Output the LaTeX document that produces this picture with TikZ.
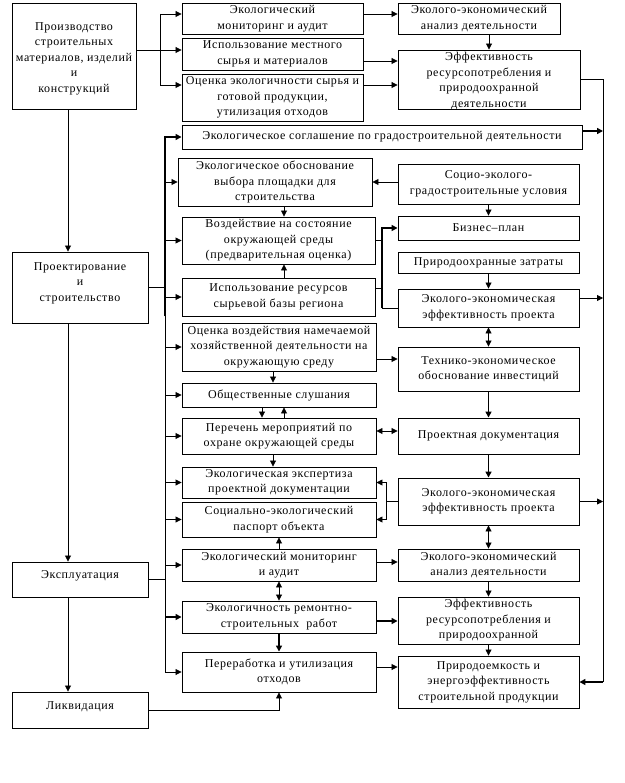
\documentclass[tikz,border=0pt]{standalone}
\usepackage{fontspec}
\setmainfont{Liberation Serif}[LetterSpace=5]
\usetikzlibrary{arrows.meta}
\newcommand{\fsz}{\fontsize{12}{15.5}\selectfont}
\newcommand{\mybox}[6]{\node[box, minimum width={(#4-#2)*1pt}, minimum height={(#5-#3)*1pt}] (#1) at ({(#2+#4)/2},{(#3+#5)/2}) {#6};}
\tikzset{
  box/.style={draw, line width=0.9pt, align=center, inner sep=0pt, font=\fsz},
  txt/.style={align=center, inner sep=0pt, font=\fsz},
  arr/.style={-{Triangle[length=6pt,width=6pt]}, line width=0.8pt},
  darr/.style={{Triangle[length=6pt,width=6pt]}-{Triangle[length=6pt,width=6pt]}, line width=0.8pt},
  thk/.style={line width=1.8pt},
  ln/.style={line width=0.8pt}
}
\begin{document}
\begin{tikzpicture}[x=1pt,y=-1pt]
\useasboundingbox (0,0) rectangle (624,783);
% left column
\mybox{prod}{12}{3}{136}{109}{}
\node[txt] (prodt) at ([yshift=-2.5pt]prod.center) {Производство\\строительных\\материалов, изделий\\и\\конструкций};
\mybox{proekt}{12}{252}{148}{323}{}
\node[txt] (proektt) at ([yshift=4.5pt]proekt.center) {Проектирование\\и\\строительство};
\node[box, minimum width=136pt, minimum height=35pt, text depth=9pt] (expl) at (80,579.5) {Эксплуатация};
\node[box, minimum width=136pt, minimum height=36pt, text depth=9pt] (likv) at (80,710) {Ликвидация};
% top group
\mybox{b1}{182}{3}{363}{34}{Экологический\\мониторинг и аудит}
\mybox{b2}{182}{38}{363}{70}{Использование местного\\сырья и материалов}
\mybox{b3}{182}{74}{363}{121}{Оценка экологичности сырья и\\готовой продукции,\\утилизация отходов}
\mybox{c1}{398}{3}{560}{34}{Эколого-экономический\\анализ деятельности}
\mybox{c2}{398}{50}{580}{109}{}
\begin{scope}
\clip (c2.south west) rectangle (c2.north east);
\node[txt] (c2t) at ([yshift=-1.5pt]c2.center) {Эффективность\\ресурсопотребления и\\природоохранной\\деятельности};
\end{scope}
\mybox{s}{182}{125}{582}{149}{Экологическое соглашение по градостроительной деятельности}
% column D
\mybox{d1}{178}{158}{372}{206}{Экологическое обоснование\\выбора площадки для\\строительства}
\mybox{d2}{182}{217}{375}{264}{Воздействие на состояние\\окружающей среды\\(предварительная оценка)}
\mybox{d3}{182}{278}{375}{316}{Использование ресурсов\\сырьевой базы региона}
\mybox{d4}{182}{323}{376}{371}{Оценка воздействия намечаемой\\хозяйственной деятельности на\\окружающую среду}
\mybox{d5}{182}{383}{376}{407}{Общественные слушания}
\mybox{d6}{182}{418}{376}{454}{Перечень мероприятий по\\охране окружающей среды}
\mybox{d7}{182}{467}{376}{498}{Экологическая экспертиза\\проектной документации}
\mybox{d8}{182}{502}{376}{537}{Социально-экологический\\паспорт объекта}
\mybox{d9}{182}{549}{376}{581}{Экологический мониторинг\\и аудит}
\mybox{d10}{182}{601}{376}{633}{Экологичность ремонтно-\\строительных\ \ работ}
\mybox{d11}{182}{652}{376}{692}{Переработка и утилизация\\отходов}
% column E
\mybox{e1}{398}{164}{579}{204}{Социо-эколого-\\градостроительные условия}
\mybox{e2}{398}{216}{579}{240}{Бизнес–план}
\mybox{e3}{398}{252}{579}{273}{Природоохранные затраты}
\mybox{e4}{398}{289}{579}{327}{Эколого-экономическая\\эффективность проекта}
\mybox{e5}{398}{347}{579}{391}{Технико-экономическое\\обоснование инвестиций}
\mybox{e6}{398}{418}{579}{454}{Проектная документация}
\mybox{e7}{398}{478}{579}{525}{Эколого-экономическая\\эффективность проекта}
\mybox{e8}{398}{549}{579}{581}{Эколого-экономический\\анализ деятельности}
\mybox{e9}{398}{597}{579}{644}{Эффективность\\ресурсопотребления и\\природоохранной}
\mybox{e10}{398}{656}{579}{708}{Природоемкость и\\энергоэффективность\\строительной продукции}
% coordinates
\coordinate (lx) at (68,0);
\coordinate (pb1) at (160,14);
\coordinate (pb2) at (160,50);
\coordinate (pb3) at (160,85);
\coordinate (c2a) at (0,61);
\coordinate (rx) at (603,0);
\coordinate (sy) at (0,131);
\coordinate (e4y) at (0,298);
\coordinate (bt) at (165,137);
\coordinate (mx) at (382,0);
\coordinate (d3y) at (0,288);
\coordinate (d4y) at (0,359);
\coordinate (d6y) at (0,431);
\coordinate (ex) at (386,0);
\coordinate (d9y) at (0,562);
\coordinate (d10y) at (0,621);
\coordinate (d11y) at (0,667);
\coordinate (dx1) at (284,0);
\coordinate (dx2) at (273,0);
\coordinate (dx3) at (262,0);
\coordinate (dx4) at (279,0);
% left column arrows
\draw[arr] (prod.south -| lx) -- (proekt.north -| lx);
\draw[arr] (proekt.south -| lx) -- (expl.north -| lx);
\draw[arr] (expl.south -| lx) -- (likv.north -| lx);
% production bus
\draw[ln] (prod.east |- pb2) -- (pb2);
\draw[ln] (pb1) -- (pb3);
\draw[arr] (pb1) -- (pb1 -| b1.west);
\draw[arr] (pb2) -- (pb2 -| b2.west);
\draw[arr] (pb3) -- (pb3 -| b3.west);
\draw[arr] (b1.east |- pb1) -- (c1.west |- pb1);
\draw[arr] (b2.east |- c2a) -- (c2.west |- c2a);
\draw[arr] (b3.east |- pb3) -- (c2.west |- pb3);
\draw[arr] (c1.south -| c2.north) -- (c2.north);
% right line
\draw[ln] (c2.east) -- (c2.east -| rx) -- (rx |- e10.east);
\draw[arr,thk] (rx |- e10.east) -- (e10.east);
\draw[arr,thk] (s.east |- sy) -- (rx |- sy);
\draw[arr] (e4.east |- e4y) -- (rx |- e4y);
\draw[arr] (e7.east) -- (rx |- e7.east);
% design bus
\draw[arr,thk] (bt |- d3.south) -- (bt) -- (s.west);
\draw[ln] (bt |- d3.south) -- (bt |- d11.west);
\draw[ln] (proekt.east) -- (proekt.east -| bt);
\draw[ln] (expl.east) -- (expl.east -| bt);
\foreach \n in {d1,d2,d3,d4,d5,d6,d7,d8,d9,d11}
  \draw[arr] (bt |- \n.west) -- (\n.west);
\draw[arr,thk] (bt |- d10.west) -- (d10.west);
% column D vertical arrows
\draw[arr] (d1.south -| dx1) -- (d2.north -| dx1);
\draw[arr] (d3.north -| dx1) -- (d2.south -| dx1);
\draw[arr] (d4.south -| dx2) -- (d5.north -| dx2);
\draw[arr] (d5.south -| dx3) -- (d6.north -| dx3);
\draw[arr] (d6.north -| dx1) -- (d5.south -| dx1);
\draw[arr] (d6.south -| dx2) -- (d7.north -| dx2);
\draw[arr] (d9.north -| dx4) -- (d8.south -| dx4);
\draw[darr] (d9.south -| dx4) -- (d10.north -| dx4);
\draw[arr,thk] (d10.south -| dx4) -- (d11.north -| dx4);
\draw[arr] (likv.east) -- (likv.east -| dx4) -- (d11.south -| dx4);
% E to D links
\draw[arr] (e1.west |- d1.east) -- (d1.east);
\draw[ln] (d2.east) -- (d2.east -| mx);
\draw[ln] (d3.east |- d3y) -- (mx |- d3y);
\draw[arr,thk] (mx |- e4.west) -- (mx |- e2.west) -- (e2.west);
\draw[ln] (mx |- e4.west) -- (e4.west);
\draw[arr] (d4.east |- d4y) -- (e5.west |- d4y);
\draw[darr] (d6.east |- d6y) -- (e6.west |- d6y);
\draw[ln] (e7.west) -- (e7.west -| ex);
\draw[arr] (e7.west -| ex) -- (ex |- d7.east) -- (d7.east);
\draw[arr] (e7.west -| ex) -- (ex |- d8.east) -- (d8.east);
\draw[arr] (d9.east |- d9y) -- (e8.west |- d9y);
\draw[arr,thk] (d10.east |- d10y) -- (e9.west |- d10y);
\draw[arr] (d11.east |- d11y) -- (e10.west |- d11y);
% column E vertical arrows
\draw[arr] (e1.south) -- (e2.north);
\draw[arr] (e3.south) -- (e4.north);
\draw[darr] (e4.south) -- (e5.north);
\draw[arr,thk] (e5.south) -- (e6.north);
\draw[arr,thk] (e6.south) -- (e7.north);
\draw[darr] (e7.south) -- (e8.north);
\draw[arr] (e8.south) -- (e9.north);
\draw[arr] (e9.south) -- (e10.north);
\end{tikzpicture}
\end{document}
